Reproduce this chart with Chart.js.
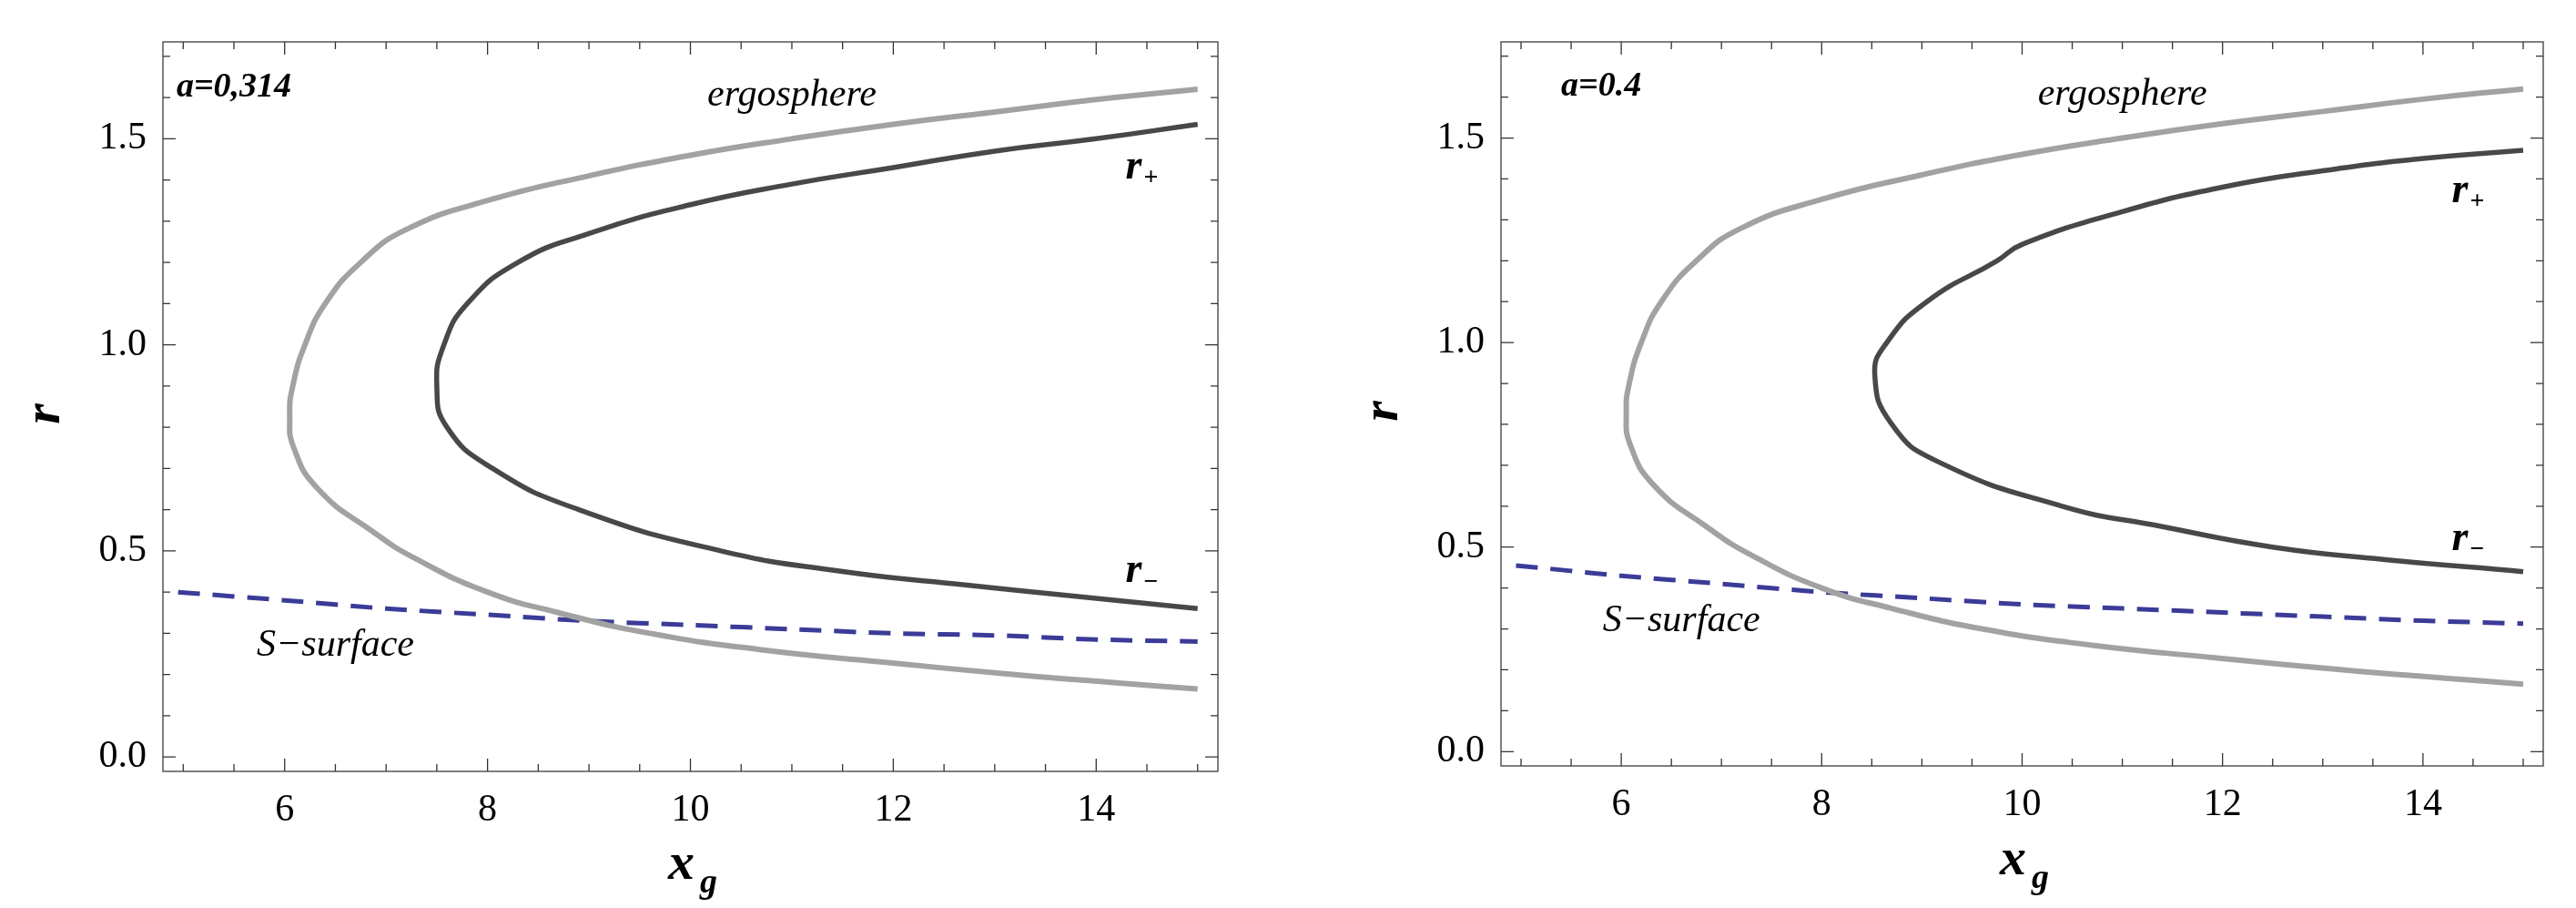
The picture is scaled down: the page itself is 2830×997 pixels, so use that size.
<!DOCTYPE html>
<html><head><meta charset="utf-8">
<script src="https://cdn.jsdelivr.net/npm/chart.js@4/dist/chart.umd.min.js"></script>
<style>body{margin:0;background:#fff;width:2830px;height:997px;position:relative;overflow:hidden}
canvas{position:absolute;top:0}</style></head><body>
<canvas id="c1" style="left:0"></canvas><canvas id="c2" style="left:1415px"></canvas>
<script>
// ---- data (x_g, r) ----
const ergoX = [15,14,13,12,11,10,9,8,7.2,6.75,6.4,6.2,6.08,6.05,6.09,6.33,6.85,7.3,8.0,8.7,9.6,10.7,11.9,13.2,14.2,15];
const ergoR = [1.62,1.595,1.565,1.535,1.5,1.46,1.41,1.35,1.28,1.2,1.1,1.0,0.9,0.83,0.75,0.65,0.55,0.48,0.40,0.35,0.30,0.26,0.23,0.20,0.18,0.165];
const horA_X = [15,13.8,12.6,11.5,10.3,8.9,8.05,7.6,7.5,7.57,7.8,8.3,9,10,11,12,13,14,15].reverse();
const horA_R = [0.36,0.39,0.42,0.45,0.5,0.6,0.7,0.8,0.9,1.0,1.1,1.2,1.27,1.34,1.39,1.43,1.47,1.5,1.535].reverse();
const sA_X = [4.95,6,7,8,9,10,11,12,13,14,15];
const sA_R = [0.40,0.38,0.36,0.345,0.33,0.32,0.31,0.30,0.295,0.285,0.28];
const horB_X = [15,14,13,12,11,10,9.75,9.05,8.65,8.53,8.7,9.15,10.4,11.4,12.5,13.6,15];
const horB_R = [1.47,1.45,1.42,1.38,1.32,1.24,1.2,1.1,1.0,0.92,0.8,0.71,0.6,0.55,0.5,0.47,0.44];
const sB_X = [4.95,6,7,8,9,10,11,12,13,14,15];
const sB_R = [0.455,0.43,0.41,0.39,0.375,0.36,0.35,0.34,0.33,0.32,0.313];
const xTicks = [6,8,10,12,14];
const yTicks = [0.0,0.5,1.0,1.5];

const pts = (xs, rs) => xs.map((x,i)=>({x, y: rs[i]}));
const SERIF = "'Liberation Serif', 'DejaVu Serif', serif";

function makeChart(id, hor, sx, sr, lab, geo){
  const cv = document.getElementById(id);
  cv.width = 1415; cv.height = 997;
  const deco = {
    id:'deco',
    afterDraw(ch){
      const c = ch.ctx, a = ch.chartArea, xs = ch.scales.x, ys = ch.scales.y;
      c.save();
      c.strokeStyle = '#555'; c.lineWidth = 1.5;
      c.strokeRect(a.left, a.top, a.right-a.left, a.bottom-a.top);
      c.strokeStyle = '#333'; c.lineWidth = 1.3;
      for (let v = 5; v <= 15.001; v += 0.5){
        const p = xs.getPixelForValue(v); const maj = Math.abs(v/2 - Math.round(v/2)) < 1e-6;
        const L = maj ? 14 : 8;
        c.beginPath(); c.moveTo(p,a.bottom); c.lineTo(p,a.bottom-L); c.moveTo(p,a.top); c.lineTo(p,a.top+L); c.stroke();
      }
      for (let k = 0; k <= 17; k++){
        const v = k/10, p = ys.getPixelForValue(v); const L = (k%5===0) ? 14 : 8;
        c.beginPath(); c.moveTo(a.left,p); c.lineTo(a.left+L,p); c.moveTo(a.right,p); c.lineTo(a.right-L,p); c.stroke();
      }
      c.fillStyle = '#000'; c.textBaseline = 'middle';
      const T = (t, x, y, font, align) => { c.font = font; c.textAlign = align||'center'; c.fillText(t, xs.getPixelForValue(x), ys.getPixelForValue(y)); };
      T(lab.a, lab.ax, 1.625, 'italic bold 38px '+SERIF);
      T('ergosphere', 11.0, 1.605, 'italic 42px '+SERIF);
      T('S\u2212surface', lab.sx, lab.sy, 'italic 42px '+SERIF);
      const rl = (x,y,sub)=>{ const px = xs.getPixelForValue(x), py = ys.getPixelForValue(y);
        c.font='italic bold 46px '+SERIF; c.textAlign='right'; c.fillText('r', px, py);
        c.font='bold 28px '+SERIF; c.textAlign='left'; c.fillText(sub, px+2, py+12); };
      rl(lab.rpx, lab.rpy, '+'); rl(lab.rpx, lab.rmy, '\u2212');
      c.font = 'italic bold 58px '+SERIF; c.textAlign='center';
      const cx = (a.left+a.right)/2;
      c.fillText('x', cx-10, geo.xt); c.font='italic bold 38px '+SERIF; c.fillText('g', cx+20, geo.xt+20);
      c.save(); c.translate(geo.yt, (a.top+a.bottom)/2+8); c.rotate(-Math.PI/2);
      c.font = 'italic bold 58px '+SERIF; c.fillText('r', 0, 0); c.restore();
      c.restore();
    }
  };
  new Chart(cv, {
    type:'scatter',
    data:{datasets:[
      {data:pts(ergoX, ergoR), showLine:true, borderColor:'#a2a2a2', borderWidth:6, pointRadius:0, tension:0.5, fill:false},
      {data:pts(hor[0], hor[1]), showLine:true, borderColor:'#484848', borderWidth:5.5, pointRadius:0, tension:0.5, fill:false},
      {data:pts(sx, sr), showLine:true, borderColor:'#3b3b98', borderWidth:5, borderDash:[24,14], pointRadius:0, tension:0.3, fill:false}
    ]},
    plugins:[deco],
    options:{
      responsive:false, animation:false, events:[],
      layout:{padding:{top:geo.top, right:geo.right, left:0, bottom:0}},
      plugins:{legend:{display:false}, tooltip:{enabled:false}},
      scales:{
        x:{type:'linear', min:geo.xmin, max:15.2, afterBuildTicks:s=>{s.ticks = xTicks.map(v=>({value:v}));},
           grid:{display:false}, border:{display:false},
           ticks:{color:'#000', font:{family:SERIF, size:42}, padding:10, maxRotation:0},
           afterFit:s=>{s.height = geo.xh;}},
        y:{type:'linear', min:-0.035, max:1.735, afterBuildTicks:s=>{s.ticks = yTicks.map(v=>({value:v}));},
           grid:{display:false}, border:{display:false},
           ticks:{color:'#000', font:{family:SERIF, size:42}, padding:10, callback:v=>v.toFixed(1)},
           afterFit:s=>{s.width = geo.yw;}}
      }
    }
  });
}
makeChart('c1', [horA_X, horA_R], sA_X, sA_R,
  {a:'a=0,314', ax:5.5, sx:6.5, sy:0.27, rpx:14.45, rpy:1.43, rmy:0.45},
  {top:46, right:77, xh:150, yw:179, xmin:4.8, xt:950, yt:50});
makeChart('c2', [horB_X, horB_R], sB_X, sB_R,
  {a:'a=0.4', ax:5.8, sx:6.6, sy:0.32, rpx:14.45, rpy:1.37, rmy:0.52},
  {top:46, right:36, xh:156, yw:234, xmin:4.8, xt:945, yt:105});
</script></body></html>
